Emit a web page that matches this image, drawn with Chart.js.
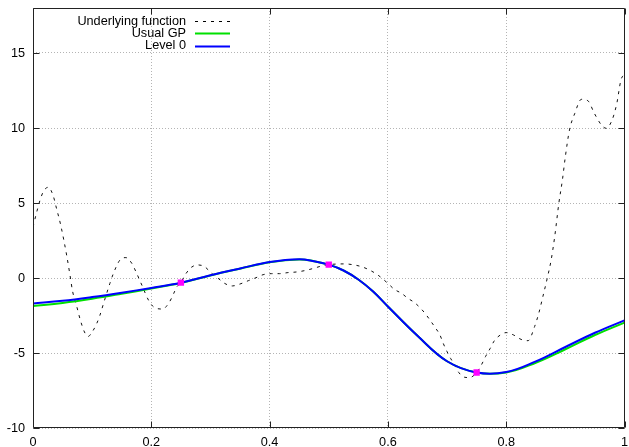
<!DOCTYPE html>
<html>
<head>
<meta charset="utf-8">
<script src="https://cdn.jsdelivr.net/npm/chart.js@4/dist/chart.umd.min.js"></script>
<style>
  html, body { margin: 0; padding: 0; background: #fff; }
  canvas { display: block; }
</style>
</head>
<body>
<canvas id="gp" width="629" height="447"></canvas>
<script>
// underlying (noisy) function
const fnX = [0, 0.005, 0.012, 0.018, 0.026, 0.034, 0.040, 0.047, 0.057, 0.0625, 0.067, 0.074, 0.080, 0.087, 0.093,
  0.100, 0.107, 0.113, 0.120, 0.130, 0.136, 0.147, 0.157, 0.167, 0.174, 0.184, 0.196, 0.206, 0.219, 0.231,
  0.238, 0.243, 0.250, 0.257, 0.268, 0.279, 0.290, 0.302, 0.313, 0.324, 0.337, 0.350, 0.364, 0.377, 0.389,
  0.403, 0.417, 0.431, 0.445, 0.459, 0.474, 0.488, 0.500, 0.513, 0.527, 0.540, 0.555, 0.569, 0.583, 0.600,
  0.611, 0.623, 0.634, 0.645, 0.657, 0.665, 0.673, 0.681, 0.688, 0.694, 0.700, 0.706, 0.713, 0.720, 0.730,
  0.738, 0.750, 0.758, 0.765, 0.773, 0.780, 0.790, 0.800, 0.8125, 0.825, 0.837, 0.848, 0.855, 0.862, 0.870,
  0.876, 0.882, 0.889, 0.895, 0.900, 0.907, 0.916, 0.927, 0.938, 0.949, 0.961, 0.969, 0.979, 0.987, 0.994, 1.0];
const fnY = [3.4, 4.2, 5.2, 5.8, 6.05, 5.5, 4.6, 3.5, 1.5, 0.2, -0.9, -1.9, -2.8, -3.6, -3.9,
  -3.6, -3.1, -2.5, -1.6, -0.36, 0.31, 1.2, 1.36, 0.98, 0.42, -0.47, -1.53, -1.98, -2.07, -1.58,
  -1.02, -0.6, -0.31, 0.2, 0.72, 0.87, 0.76, 0.31, -0.02, -0.36, -0.53, -0.4, -0.18, 0.02, 0.22,
  0.29, 0.29, 0.36, 0.4, 0.49, 0.64, 0.8, 0.89, 0.93, 0.94, 0.89, 0.76, 0.53, 0.2, -0.36,
  -0.76, -1.02, -1.36, -1.64, -2.09, -2.47, -2.91, -3.36, -3.8, -4.4, -4.91, -5.36, -5.8, -6.31, -6.62,
  -6.64, -6.3, -5.8, -5.24, -4.69, -4.18, -3.8, -3.64, -3.8, -4.09, -4.18, -3.24, -2.36, -1.24, 0.09,
  1.2, 2.76, 4.98, 6.53, 8.09, 9.87, 10.98, 11.91, 11.82, 10.98, 10.2, 9.98, 10.53, 11.64, 13.2, 13.6];

// GP posterior means
const gpX = [0, 0.05, 0.1, 0.15, 0.2, 0.25, 0.3, 0.35, 0.4, 0.45, 0.475, 0.5, 0.525, 0.55, 0.575, 0.6, 0.65,
  0.7, 0.75, 0.8, 0.85, 0.9, 0.95, 1.0];
const usualGP = [-1.87, -1.66, -1.38, -1.05, -0.70, -0.33, 0.17, 0.62, 1.05, 1.24, 1.12, 0.89, 0.5, -0.1, -0.9, -1.9, -3.85,
  -5.55, -6.3, -6.3, -5.65, -4.75, -3.8, -2.97];
const level0 = [-1.70, -1.52, -1.27, -0.98, -0.66, -0.31, 0.18, 0.63, 1.06, 1.25, 1.12, 0.89, 0.5, -0.1, -0.9, -1.9, -3.85,
  -5.55, -6.3, -6.27, -5.56, -4.6, -3.65, -2.82];

// observations
const obsX = [0.25, 0.5, 0.75];
const obsY = [-0.31, 0.89, -6.3];

const yTicks = [-10, -5, 0, 5, 10, 15];
const xTicks = [0, 0.2, 0.4, 0.6, 0.8, 1];

const pts = (xs, ys) => xs.map((x, i) => ({ x: x, y: ys[i] }));

const FONT = "'Liberation Sans', Arial, sans-serif";
Chart.defaults.font.family = FONT;
Chart.defaults.font.size = 12.7;
Chart.defaults.color = "#000";

const legendItems = [
  { text: "Underlying function", color: "#000", width: 1, dash: [3, 5] },
  { text: "Usual GP", color: "#00e000", width: 2, dash: [] },
  { text: "Level 0", color: "#0000ff", width: 2, dash: [] },
];

// gnuplot style frame with inward ticks on all four sides, plus the key
const framePlugin = {
  id: "frame",
  afterDatasetsDraw(chart) {
    const { ctx, chartArea: a, scales } = chart;
    ctx.save();
    ctx.strokeStyle = "#222";
    ctx.lineWidth = 1;
    ctx.setLineDash([]);
    ctx.beginPath();
    const L = Math.round(a.left) + 0.5, R = Math.round(a.right) - 0.5;
    const T = Math.round(a.top) + 0.5, B = Math.round(a.bottom) - 0.5;
    ctx.rect(L, T, R - L, B - T);
    yTicks.forEach(v => {
      const py = Math.round(scales.y.getPixelForValue(v)) + 0.5;
      ctx.moveTo(L, py); ctx.lineTo(L + 6, py);
      ctx.moveTo(R, py); ctx.lineTo(R - 6, py);
    });
    xTicks.forEach(v => {
      const px = Math.round(scales.x.getPixelForValue(v)) + 0.5;
      ctx.moveTo(px, B); ctx.lineTo(px, B - 6);
      ctx.moveTo(px, T); ctx.lineTo(px, T + 6);
    });
    ctx.stroke();
    ctx.restore();
  },
  afterDraw(chart) {
    const { ctx } = chart;
    ctx.save();
    ctx.font = "12.7px " + FONT;
    ctx.textAlign = "right";
    ctx.textBaseline = "middle";
    legendItems.forEach((it, i) => {
      const y = 21 + i * 12.3;
      ctx.fillStyle = "#000";
      ctx.fillText(it.text, 186, y);
      ctx.beginPath();
      ctx.strokeStyle = it.color;
      ctx.lineWidth = it.width;
      ctx.setLineDash(it.dash);
      ctx.moveTo(195, Math.round(y) + 0.5);
      ctx.lineTo(230, Math.round(y) + 0.5);
      ctx.stroke();
    });
    ctx.restore();
  }
};

// keep the plot frame where the layout padding puts it
const noPad = s => { s.paddingTop = 0; s.paddingBottom = 0; s.paddingLeft = 0; s.paddingRight = 0; };

new Chart(document.getElementById("gp"), {
  type: "scatter",
  data: {
    datasets: [
      {
        label: "obs",
        data: pts(obsX, obsY),
        showLine: false,
        pointStyle: "rect",
        pointRadius: 4.5,
        backgroundColor: "#ff00ff",
        borderColor: "#ff00ff",
        borderWidth: 0,
        order: 0
      },
      {
        label: "Level 0",
        data: pts(gpX, level0),
        showLine: true,
        borderColor: "#0000ff",
        borderWidth: 2,
        pointRadius: 0,
        tension: 0.4,
        order: 1
      },
      {
        label: "Usual GP",
        data: pts(gpX, usualGP),
        showLine: true,
        borderColor: "#00e000",
        borderWidth: 2,
        pointRadius: 0,
        tension: 0.4,
        order: 2
      },
      {
        label: "Underlying function",
        data: pts(fnX, fnY),
        showLine: true,
        borderColor: "#111",
        borderWidth: 1,
        borderDash: [3, 5],
        pointRadius: 0,
        cubicInterpolationMode: "monotone",
        order: 3
      }
    ]
  },
  options: {
    responsive: false,
    animation: false,
    devicePixelRatio: 1,
    layout: { padding: { top: 8, right: 4, left: 0, bottom: 0 } },
    plugins: { legend: { display: false }, tooltip: { enabled: false } },
    scales: {
      x: {
        type: "linear",
        min: 0,
        max: 1,
        afterFit: s => { s.height = 19; noPad(s); },
        afterBuildTicks: s => { s.ticks = xTicks.map(v => ({ value: v })); },
        ticks: { padding: 7, maxRotation: 0, callback: v => String(v) },
        grid: { color: "#b4b4b4", drawTicks: false },
        border: { display: false, dash: [1, 2] }
      },
      y: {
        type: "linear",
        min: -10,
        max: 18,
        afterFit: s => { s.width = 33; noPad(s); },
        afterBuildTicks: s => { s.ticks = yTicks.map(v => ({ value: v })); },
        ticks: { padding: 8 },
        grid: { color: "#b4b4b4", drawTicks: false },
        border: { display: false, dash: [1, 2] }
      }
    }
  },
  plugins: [framePlugin]
});
</script>
</body>
</html>
